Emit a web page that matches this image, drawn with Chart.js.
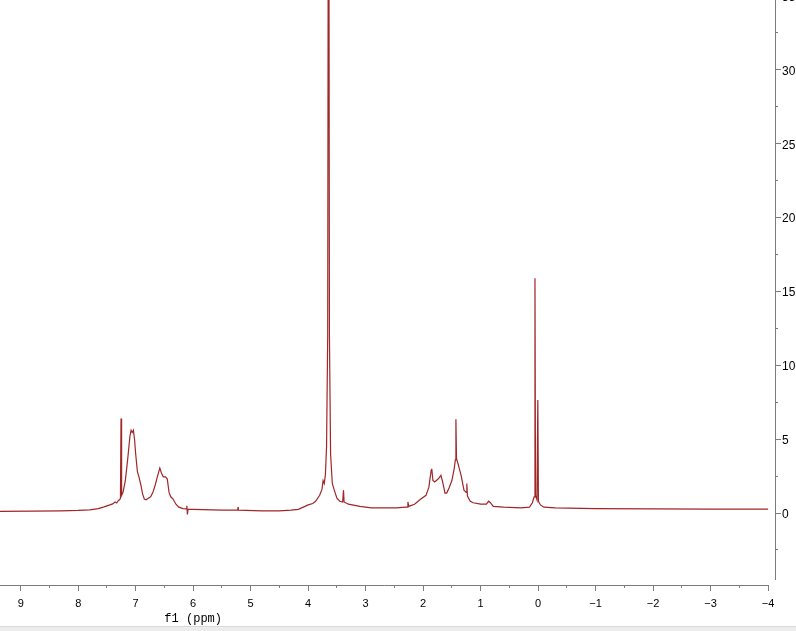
<!DOCTYPE html>
<html>
<head>
<meta charset="utf-8">
<script src="https://cdn.jsdelivr.net/npm/chart.js@4.4.1/dist/chart.umd.min.js"></script>
<style>
  html, body { margin: 0; padding: 0; background: #ececec; }
  #wrap { width: 796px; height: 626px; background: #fff; border-bottom: 1px solid #dadada; }
  canvas { display: block; }
</style>
</head>
<body>
<div id="wrap"><canvas id="nmr" width="796" height="626"></canvas></div>
<script>
// 1H NMR spectrum, f1 in ppm
var shift = [
  9.36, 8.8, 8.3, 8.0, 7.8, 7.65, 7.55, 7.45, 7.40, 7.36, 7.33, 7.30, 7.28, 7.265, 7.255, 7.245,
  7.22, 7.18, 7.14, 7.10, 7.08, 7.06, 7.04, 7.02, 7.00, 6.97, 6.94, 6.91, 6.88, 6.85, 6.82, 6.78,
  6.74, 6.70, 6.66, 6.62, 6.58, 6.55, 6.52, 6.48, 6.45, 6.42, 6.39, 6.35, 6.30, 6.25, 6.18, 6.12,
  6.11, 6.10, 6.09, 6.0, 5.5, 5.3, 5.225, 5.22, 5.215, 4.8, 4.5, 4.3, 4.17, 4.0, 3.92, 3.87, 3.80, 3.76,
  3.74, 3.72, 3.70, 3.68, 3.66, 3.645, 3.63, 3.61, 3.58, 3.55, 3.50, 3.45, 3.40, 3.385, 3.375, 3.3,
  3.1, 2.9, 2.6, 2.47, 2.30, 2.275, 2.265, 2.25, 2.15, 2.04, 1.95, 1.90, 1.86, 1.85, 1.83, 1.80, 1.74,
  1.69, 1.66, 1.62, 1.59, 1.55, 1.50, 1.46, 1.44, 1.43, 1.42, 1.39, 1.34, 1.29, 1.25, 1.24, 1.23,
  1.18, 1.13, 1.0, 0.90, 0.86, 0.83, 0.78, 0.6, 0.3, 0.15, 0.10, 0.07, 0.055, 0.045, 0.02, 0.005,
  -0.005, -0.04, -0.1, -0.3, -1, -2, -3, -4
];
var intensity = [
  0.12, 0.13, 0.15, 0.18, 0.22, 0.3, 0.42, 0.55, 0.62, 0.75, 0.68, 0.85, 0.9, 1.0, 6.4, 1.2,
  1.4, 2.2, 3.6, 5.2, 5.6, 5.45, 5.6, 5.0, 4.0, 2.8, 2.4, 1.9, 1.3, 0.95, 0.9, 1.0,
  1.1, 1.4, 1.9, 2.5, 3.05, 2.7, 2.45, 2.45, 2.3, 1.4, 1.1, 0.95, 0.6, 0.4, 0.3, 0.28,
  0.5, -0.1, 0.25, 0.25, 0.2, 0.2, 0.2, 0.4, 0.2, 0.15, 0.15, 0.2, 0.25, 0.55, 0.65, 0.8, 1.2, 1.6,
  2.2, 2.0, 2.6, 4.5, 12, 60, 12, 4, 2.0, 1.6, 1.0, 0.8, 0.75, 1.55, 0.75, 0.6,
  0.45, 0.35, 0.35, 0.35, 0.4, 0.4, 0.75, 0.45, 0.6, 0.95, 1.2, 1.75, 2.9, 3.0, 2.2, 2.1, 2.3,
  2.55, 2.1, 1.35, 1.35, 1.7, 2.2, 3.0, 3.6, 6.35, 3.7, 3.3, 2.55, 1.55, 1.4, 2.0, 1.15,
  0.8, 0.7, 0.6, 0.6, 0.8, 0.7, 0.45, 0.4, 0.35, 0.4, 0.7, 1.1, 15.9, 1.2, 0.9, 7.65,
  0.8, 0.55, 0.4, 0.35, 0.3, 0.28, 0.27, 0.27
];

// axis ticks: integers get a label, halves are minor ticks
var xTicks = [9, 8.5, 8, 7.5, 7, 6.5, 6, 5.5, 5, 4.5, 4, 3.5, 3, 2.5, 2, 1.5, 1, 0.5, 0,
  -0.5, -1, -1.5, -2, -2.5, -3, -3.5, -4];
var yTicks = [-2.5, 0, 2.5, 5, 7.5, 10, 12.5, 15, 17.5, 20, 22.5, 25, 27.5, 30, 32.5, 35];

var X_MIN = -4.12, X_MAX = 9.36, X_END = -4;
var Y_MIN = -4.87, Y_MAX = 34.73;
var TITLE_PPM = 6;

var AXIS_COLOR = '#7c7c7c';
var LINE_COLOR = '#a02628';

function fmt(v) {
  return v < 0 ? '\u2212' + Math.abs(v) : String(v);
}

var points = [];
for (var i in shift) {
  points.push({ x: shift[i], y: intensity[i] });
}

var axisLines = {
  id: 'axisLines',
  afterDraw: function(chart) {
    var ctx = chart.ctx;
    var x = chart.scales.x, y = chart.scales.y;
    ctx.save();
    ctx.strokeStyle = AXIS_COLOR;
    ctx.lineWidth = 1;
    ctx.beginPath();
    ctx.moveTo(x.left, x.top + 0.5);
    ctx.lineTo(x.getPixelForValue(X_END) + 0.5, x.top + 0.5);
    ctx.moveTo(y.left + 0.5, y.top);
    ctx.lineTo(y.left + 0.5, y.bottom - 5);
    ctx.stroke();
    ctx.fillStyle = '#000';
    ctx.font = '12px "Liberation Mono", monospace';
    ctx.textAlign = 'center';
    ctx.textBaseline = 'middle';
    ctx.fillText('f1 (ppm)', x.getPixelForValue(TITLE_PPM), 619);
    ctx.restore();
  }
};

// full-length tick on labelled values, short dash on the halves
function minorDash(c) {
  var step = c.scale.axis === 'y' ? 5 : 1;
  return (c.tick && c.tick.value % step === 0) ? [] : [3, 10];
}

var chart = new Chart(document.getElementById('nmr'), {
  type: 'line',
  data: {
    datasets: [{
      data: points,
      borderColor: LINE_COLOR,
      borderWidth: 1.2,
      pointRadius: 0,
      tension: 0,
      fill: false
    }]
  },
  options: {
    responsive: false,
    animation: false,
    devicePixelRatio: 1,
    layout: { padding: 0, autoPadding: false },
    plugins: { legend: { display: false }, tooltip: { enabled: false } },
    scales: {
      x: {
        type: 'linear',
        position: 'bottom',
        reverse: true,
        min: X_MIN,
        max: X_MAX,
        afterBuildTicks: function(s) { s.ticks = xTicks.map(function(v) { return { value: v }; }); },
        afterFit: function(s) { s.height = 41; s.paddingLeft = 0; s.paddingRight = 0; },
        border: { display: false },
        grid: {
          drawOnChartArea: false,
          tickLength: 6,
          tickColor: AXIS_COLOR,
          tickWidth: 1,
          tickBorderDash: minorDash
        },
        ticks: {
          autoSkip: false,
          maxRotation: 0,
          padding: 6,
          color: '#000',
          font: { family: '"Liberation Sans", Arial, sans-serif', size: 11 },
          callback: function(v) { return v % 1 === 0 ? fmt(v) : ''; }
        }
      },
      y: {
        type: 'linear',
        position: 'right',
        min: Y_MIN,
        max: Y_MAX,
        afterBuildTicks: function(s) { s.ticks = yTicks.map(function(v) { return { value: v }; }); },
        afterFit: function(s) { s.width = 21; s.paddingTop = 0; s.paddingBottom = 0; },
        border: { display: false },
        grid: {
          drawOnChartArea: false,
          tickLength: 6,
          tickColor: AXIS_COLOR,
          tickWidth: 1,
          tickBorderDash: minorDash
        },
        ticks: {
          autoSkip: false,
          padding: 1,
          labelOffset: 1.5,
          color: '#000',
          font: { family: '"Liberation Sans", Arial, sans-serif', size: 12 },
          callback: function(v) { return v % 5 === 0 ? fmt(v) : ''; }
        }
      }
    }
  },
  plugins: [axisLines]
});
</script>
</body>
</html>
